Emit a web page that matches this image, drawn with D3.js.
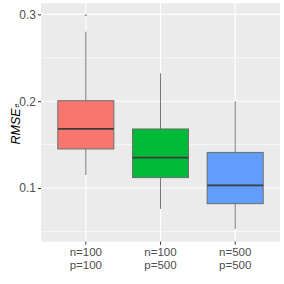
<!DOCTYPE html>
<html>
<head>
<meta charset="utf-8">
<script src="https://cdn.jsdelivr.net/npm/d3@7"></script>
<style>
body { margin: 0; background: #fff; }
text { font-family: "Liberation Sans", Arial, sans-serif; }
</style>
</head>
<body>
<script>
// categorias y estadisticos de cada caja
var grupos    = ["n=100\np=100", "n=100\np=500", "n=500\np=500"];
var colores   = ["#F8766D", "#00BA38", "#619CFF"];
var bigoteMin = [0.115, 0.076, 0.053];
var cuartil1  = [0.145, 0.112, 0.082];
var medianas  = [0.168, 0.135, 0.103];
var cuartil3  = [0.2005, 0.168, 0.141];
var bigoteMax = [0.28, 0.232, 0.200];
var atipicos  = [[0, 0.299]];
var ticksY    = [0.1, 0.2, 0.3];
var ticksMenores = [0.05, 0.15, 0.25];

var ancho = 284, alto = 284;
var margen = {izq: 41, der: 4, arr: 3.3, aba: 42.3};

var svg = d3.select("body").append("svg")
    .attr("width", ancho)
    .attr("height", alto);

var x = d3.scaleBand()
    .domain(grupos)
    .range([margen.izq, ancho - margen.der])
    .paddingInner(0.25)
    .paddingOuter(0.225);

var y = d3.scaleLinear()
    .domain([0.0382, 0.3127])
    .range([alto - margen.aba, margen.arr]);

// panel gris
svg.append("rect")
    .attr("x", margen.izq)
    .attr("y", margen.arr)
    .attr("width", ancho - margen.der - margen.izq)
    .attr("height", alto - margen.aba - margen.arr)
    .style("fill", "#EBEBEB");

// lineas de la cuadricula
ticksMenores.forEach(function(t) {
    svg.append("line")
        .attr("x1", margen.izq).attr("x2", ancho - margen.der)
        .attr("y1", y(t)).attr("y2", y(t))
        .style("stroke", "#fff").style("stroke-width", 0.6);
});
ticksY.forEach(function(t) {
    svg.append("line")
        .attr("x1", margen.izq).attr("x2", ancho - margen.der)
        .attr("y1", y(t)).attr("y2", y(t))
        .style("stroke", "#fff").style("stroke-width", 1.1);
});
grupos.forEach(function(g) {
    var cx = x(g) + x.bandwidth() / 2;
    svg.append("line")
        .attr("x1", cx).attr("x2", cx)
        .attr("y1", margen.arr).attr("y2", alto - margen.aba)
        .style("stroke", "#fff").style("stroke-width", 1.1);
});

// cajas
grupos.forEach(function(g, i) {
    var cx = x(g) + x.bandwidth() / 2;
    svg.append("line")
        .attr("x1", cx).attr("x2", cx)
        .attr("y1", y(bigoteMax[i])).attr("y2", y(cuartil3[i]))
        .style("stroke", "#777").style("stroke-width", 1);
    svg.append("line")
        .attr("x1", cx).attr("x2", cx)
        .attr("y1", y(cuartil1[i])).attr("y2", y(bigoteMin[i]))
        .style("stroke", "#777").style("stroke-width", 1);
    svg.append("rect")
        .attr("x", x(g))
        .attr("y", y(cuartil3[i]))
        .attr("width", x.bandwidth())
        .attr("height", y(cuartil1[i]) - y(cuartil3[i]))
        .style("fill", colores[i])
        .style("stroke", "#6b6b6b")
        .style("stroke-width", 1);
    svg.append("line")
        .attr("x1", x(g)).attr("x2", x(g) + x.bandwidth())
        .attr("y1", y(medianas[i])).attr("y2", y(medianas[i]))
        .style("stroke", "#3d3d3d").style("stroke-width", 1.8);
});

atipicos.forEach(function(a) {
    var g = grupos[a[0]];
    svg.append("circle")
        .attr("cx", x(g) + x.bandwidth() / 2)
        .attr("cy", y(a[1]))
        .attr("r", 1)
        .style("fill", "#888");
});

// eje y
var ejeY = svg.append("g")
    .attr("transform", "translate(" + margen.izq + ",0)")
    .call(d3.axisLeft(y).tickValues(ticksY).tickSize(3).tickPadding(2).tickFormat(d3.format(".1f")));
ejeY.select(".domain").remove();
ejeY.selectAll("line").style("stroke", "#333");
ejeY.selectAll("text").style("font-size", "12px").style("fill", "#4D4D4D")
    .style("font-family", "Liberation Sans, Arial, sans-serif");

// eje x (dos lineas por etiqueta)
var ejeX = svg.append("g")
    .attr("transform", "translate(0," + (alto - margen.aba) + ")")
    .call(d3.axisBottom(x).tickSize(3).tickFormat(""));
ejeX.select(".domain").remove();
ejeX.selectAll("line").style("stroke", "#333");
ejeX.selectAll(".tick").each(function(d) {
    var partes = d.split("\n");
    var tick = d3.select(this);
    partes.forEach(function(p, k) {
        tick.append("text")
            .attr("text-anchor", "middle")
            .attr("x", 0)
            .attr("y", 14.5 + k * 13)
            .style("font-size", "11.5px")
            .style("fill", "#4D4D4D")
            .text(p);
    });
});

// etiqueta del eje y
var etiqueta = svg.append("text")
    .attr("transform", "translate(19.5,124) rotate(-90)")
    .attr("text-anchor", "middle")
    .style("font-size", "12.5px")
    .style("font-style", "italic")
    .style("fill", "#000");
etiqueta.append("tspan").text("RMSE");
etiqueta.append("tspan").attr("dx", 1).attr("dy", -1).style("font-size", "7px").text("e");
</script>
</body>
</html>
